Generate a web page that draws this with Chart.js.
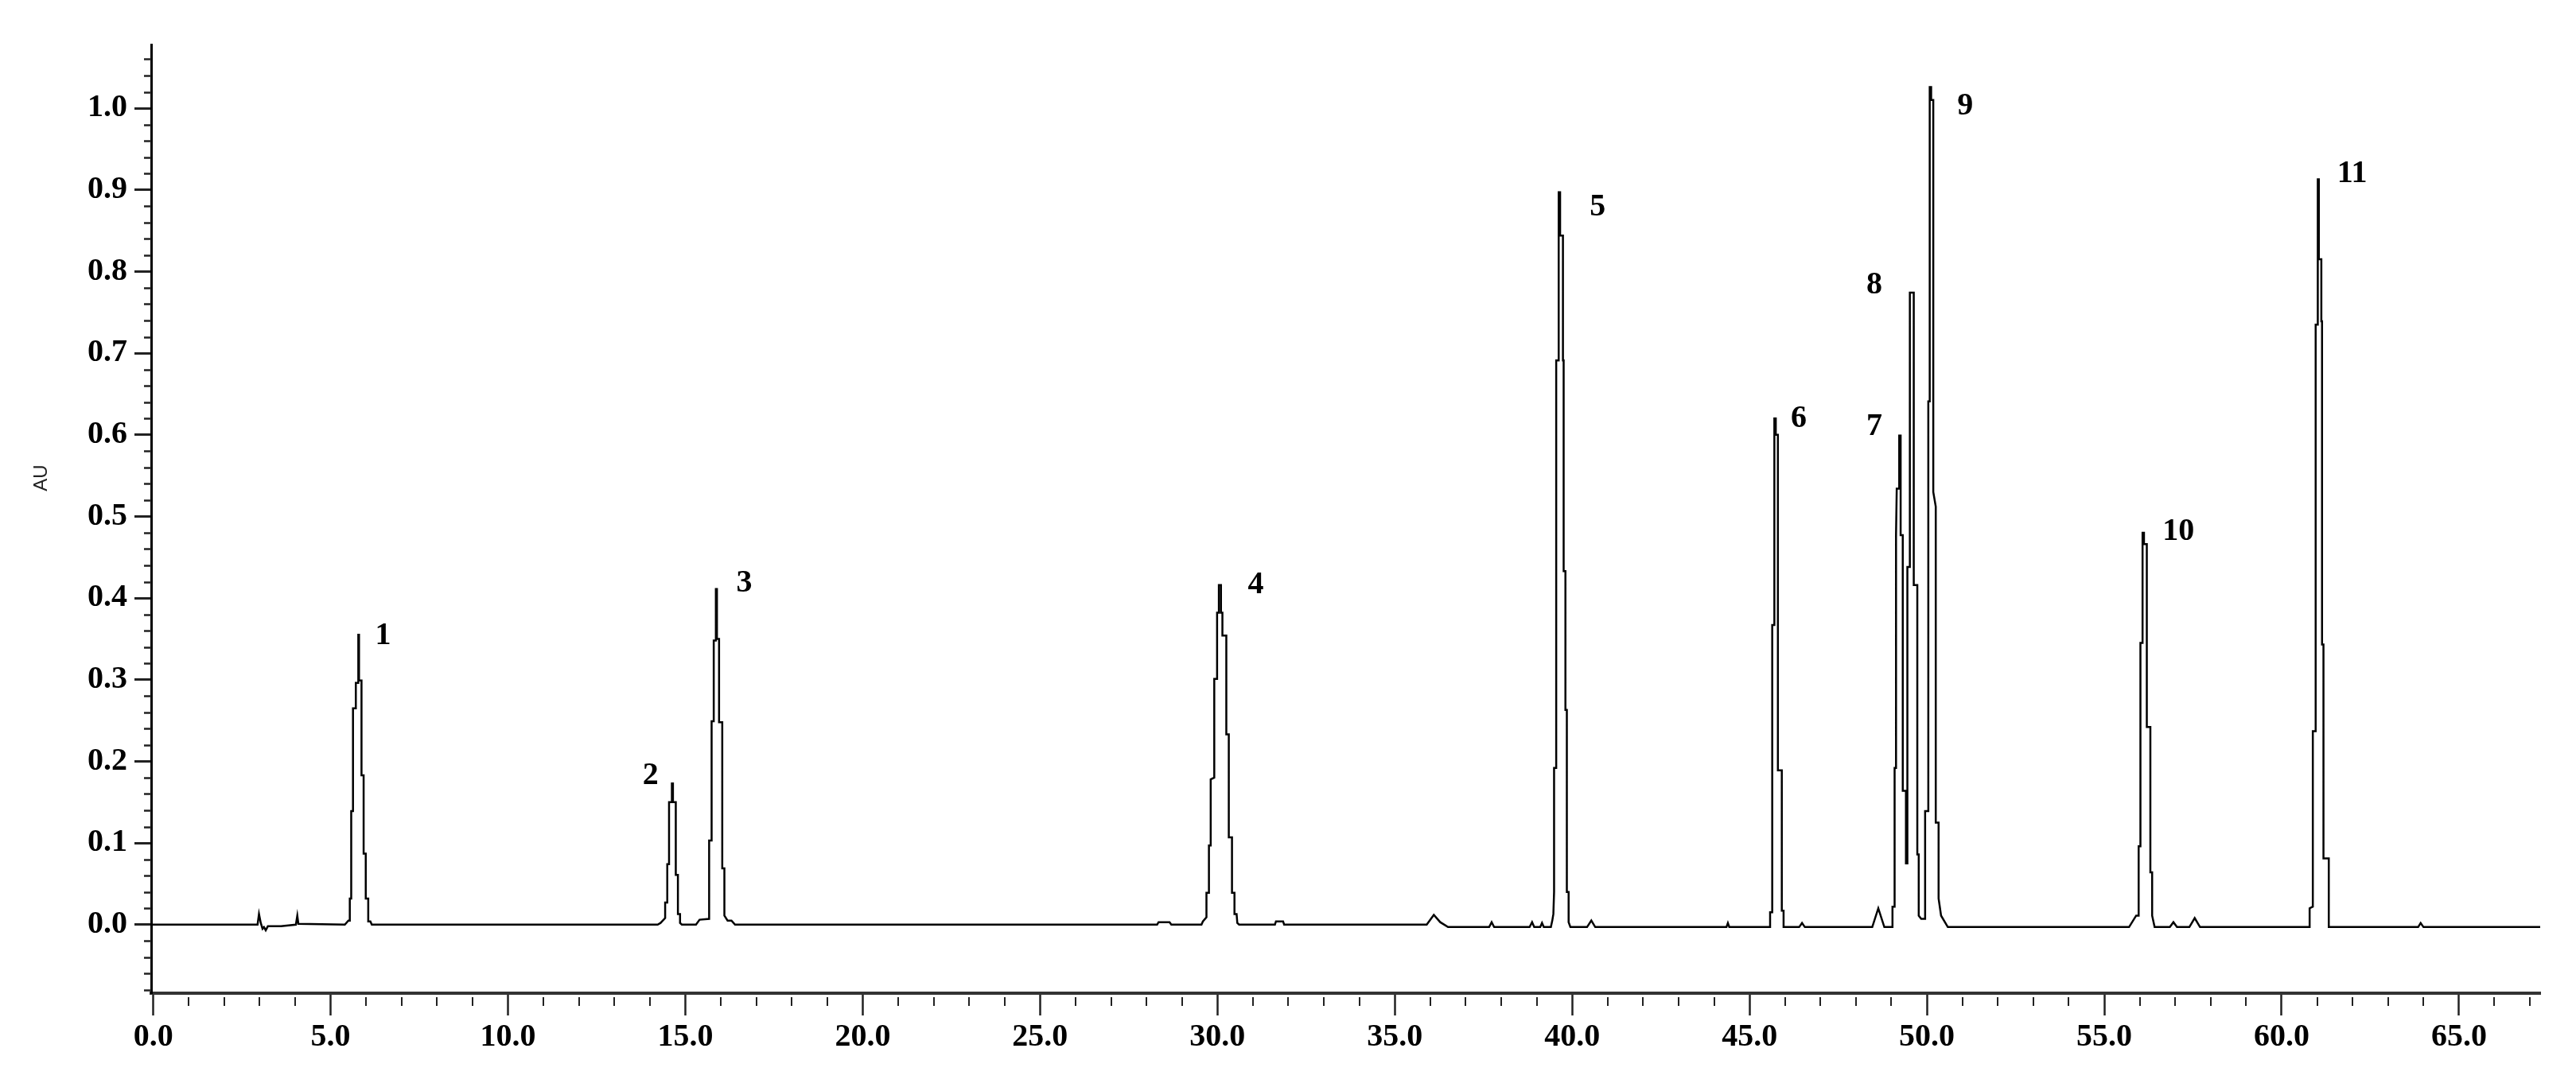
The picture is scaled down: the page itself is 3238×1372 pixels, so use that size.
<!DOCTYPE html>
<html>
<head>
<meta charset="utf-8">
<title>Cromatograma</title>
<script src="https://cdn.jsdelivr.net/npm/chart.js@4.4.1/dist/chart.umd.min.js"></script>
<style>
  html, body { margin: 0; padding: 0; background: #fff; }
  #chrom { display: block; }
</style>
</head>
<body>
<canvas id="chrom" width="3238" height="1372" style="width:3238px;height:1372px"></canvas>
<script>
const noiseStart = [[-0.06, 0], [2.94, 0], [2.98, 0.013], [3.03, 0.002], [3.08, -0.005], [3.12, -0.003], [3.17, -0.007], [3.23, -0.002], [3.60, -0.002], [4.02, 0], [4.06, 0.011], [4.09, 0.001], [5.40, 0]];
const peak1 = [[5.50, 0.005], [5.54, 0.005], [5.54, 0.032], [5.58, 0.032], [5.58, 0.139], [5.63, 0.139], [5.63, 0.265], [5.71, 0.265], [5.71, 0.296], [5.78, 0.296], [5.78, 0.355], [5.80, 0.355], [5.80, 0.299], [5.87, 0.299], [5.87, 0.183], [5.93, 0.183], [5.93, 0.087], [5.99, 0.087], [5.99, 0.032], [6.06, 0.032], [6.06, 0.004], [6.12, 0.004], [6.16, 0]];
const peak2 = [[14.22, 0], [14.30, 0.002], [14.43, 0.008], [14.43, 0.027], [14.49, 0.027], [14.49, 0.074], [14.54, 0.074], [14.54, 0.150], [14.62, 0.150], [14.62, 0.173], [14.65, 0.173], [14.65, 0.150], [14.73, 0.150], [14.73, 0.061], [14.79, 0.061], [14.79, 0.013], [14.85, 0.013], [14.85, 0.002], [14.90, 0]];
const peak3 = [[15.30, 0], [15.40, 0.006], [15.67, 0.007], [15.67, 0.103], [15.74, 0.103], [15.74, 0.249], [15.80, 0.249], [15.80, 0.348], [15.86, 0.348], [15.86, 0.411], [15.89, 0.411], [15.89, 0.350], [15.95, 0.350], [15.95, 0.248], [16.04, 0.248], [16.04, 0.069], [16.10, 0.069], [16.10, 0.011], [16.19, 0.005], [16.30, 0.005], [16.40, 0]];
const gap16to29 = [[28.30, 0], [28.34, 0.003], [28.65, 0.003], [28.70, 0]];
const peak4 = [[29.55, 0], [29.59, 0.004], [29.69, 0.009], [29.69, 0.039], [29.76, 0.039], [29.76, 0.097], [29.81, 0.097], [29.81, 0.178], [29.91, 0.180], [29.91, 0.301], [29.99, 0.301], [29.99, 0.382], [30.04, 0.382], [30.04, 0.416], [30.10, 0.416], [30.10, 0.382], [30.14, 0.382], [30.14, 0.354], [30.25, 0.354], [30.25, 0.233], [30.32, 0.233], [30.32, 0.107], [30.41, 0.107], [30.41, 0.039], [30.48, 0.039], [30.48, 0.013], [30.54, 0.013], [30.56, 0.002], [30.61, 0]];
const gap31to39 = [[31.62, 0], [31.65, 0.004], [31.85, 0.004], [31.88, 0], [35.90, 0], [36.10, 0.012], [36.28, 0.003], [36.50, -0.003], [37.66, -0.003], [37.73, 0.003], [37.80, -0.003], [38.80, -0.003], [38.87, 0.003], [38.93, -0.003], [39.10, -0.003], [39.15, 0.002], [39.20, -0.003], [39.40, -0.003]];
const peak5 = [[39.44, 0.005], [39.47, 0.013], [39.49, 0.040], [39.49, 0.192], [39.55, 0.192], [39.55, 0.691], [39.62, 0.691], [39.62, 0.897], [39.66, 0.897], [39.66, 0.844], [39.74, 0.844], [39.74, 0.691], [39.76, 0.691], [39.76, 0.433], [39.81, 0.433], [39.81, 0.263], [39.85, 0.263], [39.85, 0.040], [39.90, 0.040], [39.90, 0.003], [39.95, -0.003]];
const gap40to45 = [[40.42, -0.003], [40.54, 0.005], [40.65, -0.003], [44.35, -0.003], [44.39, 0.002], [44.43, -0.003], [45.58, -0.003]];
const peak6 = [[45.58, 0.015], [45.64, 0.015], [45.64, 0.367], [45.70, 0.367], [45.70, 0.620], [45.74, 0.620], [45.74, 0.600], [45.80, 0.600], [45.80, 0.189], [45.91, 0.189], [45.91, 0.017], [45.96, 0.017], [45.96, -0.003], [46.40, -0.003], [46.48, 0.002], [46.56, -0.003]];
const peaks789 = [[48.46, -0.003], [48.63, 0.020], [48.80, -0.003], [49.03, -0.003], [49.03, 0.022], [49.09, 0.022], [49.09, 0.192], [49.13, 0.192], [49.13, 0.477], [49.15, 0.534], [49.22, 0.534], [49.22, 0.599], [49.26, 0.599], [49.26, 0.477], [49.32, 0.477], [49.32, 0.164], [49.41, 0.164], [49.41, 0.075], [49.45, 0.075], [49.45, 0.438], [49.52, 0.438], [49.52, 0.774], [49.63, 0.774], [49.63, 0.416], [49.73, 0.416], [49.73, 0.086], [49.77, 0.086], [49.77, 0.011], [49.84, 0.007], [49.95, 0.007], [49.95, 0.139], [50.04, 0.139], [50.04, 0.641], [50.08, 0.641], [50.08, 1.026], [50.12, 1.026], [50.12, 1.010], [50.18, 1.010], [50.18, 0.530], [50.25, 0.512], [50.25, 0.125], [50.33, 0.125], [50.33, 0.032], [50.40, 0.011], [50.59, -0.003]];
const peak10 = [[55.70, -0.003], [55.90, 0.011], [55.97, 0.011], [55.97, 0.096], [56.02, 0.096], [56.02, 0.345], [56.08, 0.345], [56.08, 0.480], [56.12, 0.480], [56.12, 0.466], [56.20, 0.466], [56.20, 0.242], [56.30, 0.242], [56.30, 0.064], [56.35, 0.064], [56.35, 0.011], [56.42, -0.003], [56.85, -0.003], [56.95, 0.003], [57.05, -0.003], [57.40, -0.003], [57.55, 0.008], [57.70, -0.003]];
const peak11 = [[60.79, -0.003], [60.79, 0.020], [60.88, 0.022], [60.88, 0.237], [60.96, 0.237], [60.96, 0.735], [61.02, 0.735], [61.02, 0.913], [61.05, 0.913], [61.05, 0.815], [61.12, 0.815], [61.12, 0.739], [61.14, 0.739], [61.14, 0.343], [61.18, 0.343], [61.18, 0.081], [61.33, 0.081], [61.33, -0.003], [63.85, -0.003], [63.92, 0.002], [64.00, -0.003], [67.29, -0.003]];

// Rótulos dos picos (posição em min / AU)
const peakNames = ['1', '2', '3', '4', '5', '6', '7', '8', '9', '10', '11'];
const labelTime = [6.48, 14.02, 16.66, 31.08, 40.72, 46.39, 48.52, 48.52, 51.08, 57.09, 61.99];
const labelAU = [0.354, 0.182, 0.418, 0.416, 0.879, 0.620, 0.610, 0.783, 1.002, 0.481, 0.920];

// Marcas dos eixos
const xTicks = [0, 5, 10, 15, 20, 25, 30, 35, 40, 45, 50, 55, 60, 65];
const yTicks = [0.0, 0.1, 0.2, 0.3, 0.4, 0.5, 0.6, 0.7, 0.8, 0.9, 1.0];
const yTitle = 'AU';

const serifBold = { family: '"Liberation Serif", "Times New Roman", serif', size: 40, weight: 'bold' };

// Marcas menores dos eixos + título "AU"
const axisExtras = {
    id: 'axisExtras',
    afterDraw(chart) {
        const { ctx, scales: { x, y } } = chart;
        ctx.save();
        ctx.strokeStyle = '#222';
        ctx.lineWidth = 2.5;
        for (let i = Math.ceil(y.min / 0.02); i * 0.02 <= y.max; i++) {
            if (i % 5 === 0) continue;
            const py = Math.round(y.getPixelForValue(i * 0.02)) + 0.5;
            ctx.beginPath();
            ctx.moveTo(y.right - 9, py);
            ctx.lineTo(y.right, py);
            ctx.stroke();
        }
        ctx.lineWidth = 2;
        for (let m = 1; m <= x.max; m++) {
            if (m % 5 === 0) continue;
            const px = Math.round(x.getPixelForValue(m));
            ctx.beginPath();
            ctx.moveTo(px, x.top + 5);
            ctx.lineTo(px, x.top + 16);
            ctx.stroke();
        }
        // título do eixo y
        ctx.translate(52, y.getPixelForValue(0.547));
        ctx.rotate(-Math.PI / 2);
        ctx.fillStyle = '#222';
        ctx.font = '24px "Liberation Sans", Arial, sans-serif';
        ctx.textAlign = 'center';
        ctx.textBaseline = 'middle';
        ctx.fillText(yTitle, 0, 0);
        ctx.restore();
    }
};

// Números dos picos
const peakLabels = {
    id: 'peakLabels',
    afterDatasetsDraw(chart) {
        const { ctx, scales: { x, y } } = chart;
        ctx.save();
        ctx.fillStyle = '#000';
        ctx.font = 'bold 40px "Liberation Serif", "Times New Roman", serif';
        ctx.textAlign = 'center';
        ctx.textBaseline = 'middle';
        peakNames.forEach((name, i) => {
            ctx.fillText(name, x.getPixelForValue(labelTime[i]), y.getPixelForValue(labelAU[i]));
        });
        ctx.restore();
    }
};

function buildTrace() {
    return [].concat(noiseStart, peak1, peak2, peak3, gap16to29, peak4, gap31to39,
        peak5, gap40to45, peak6, peaks789, peak10, peak11).map(p => ({ x: p[0], y: p[1] }));
}

function createChart() {
    const canvas = document.getElementById('chrom');
    try {
        new Chart(canvas, {
            type: 'scatter',
            data: {
                datasets: [{
                    data: buildTrace(),
                    showLine: true,
                    borderColor: '#000',
                    borderWidth: 2.5,
                    pointRadius: 0,
                    tension: 0,
                    fill: false
                }]
            },
            options: {
                responsive: false,
                animation: false,
                devicePixelRatio: 1,
                layout: { padding: { left: 0, right: 45, top: 56, bottom: 0 } },
                plugins: {
                    legend: { display: false },
                    tooltip: { enabled: false }
                },
                scales: {
                    x: {
                        type: 'linear',
                        min: -0.06,
                        max: 67.29,
                        afterBuildTicks: s => { s.ticks = xTicks.map(v => ({ value: v })); },
                        afterFit: s => { s.height = 123; },
                        border: { display: true, color: '#333', width: 4 },
                        grid: { drawOnChartArea: false, drawTicks: true, tickLength: 28, tickColor: '#222', tickWidth: 2.5 },
                        ticks: {
                            callback: v => Number(v).toFixed(1),
                            font: serifBold,
                            color: '#000',
                            padding: 4,
                            maxRotation: 0,
                            autoSkip: false
                        }
                    },
                    y: {
                        min: -0.084,
                        max: 1.078,
                        afterBuildTicks: s => { s.ticks = yTicks.map(v => ({ value: v })); },
                        afterFit: s => { s.width = 190; },
                        border: { display: true, color: '#000', width: 3 },
                        grid: { drawOnChartArea: false, drawTicks: true, tickLength: 21, tickColor: '#222', tickWidth: 3 },
                        ticks: {
                            callback: v => Number(v).toFixed(1),
                            font: serifBold,
                            color: '#000',
                            padding: 9,
                            autoSkip: false
                        }
                    }
                }
            },
            plugins: [axisExtras, peakLabels]
        });
        console.log('Cromatograma criado');
    } catch (error) {
        console.error('Erro ao criar o cromatograma:', error);
    }
}

window.addEventListener('load', createChart);
</script>
</body>
</html>
